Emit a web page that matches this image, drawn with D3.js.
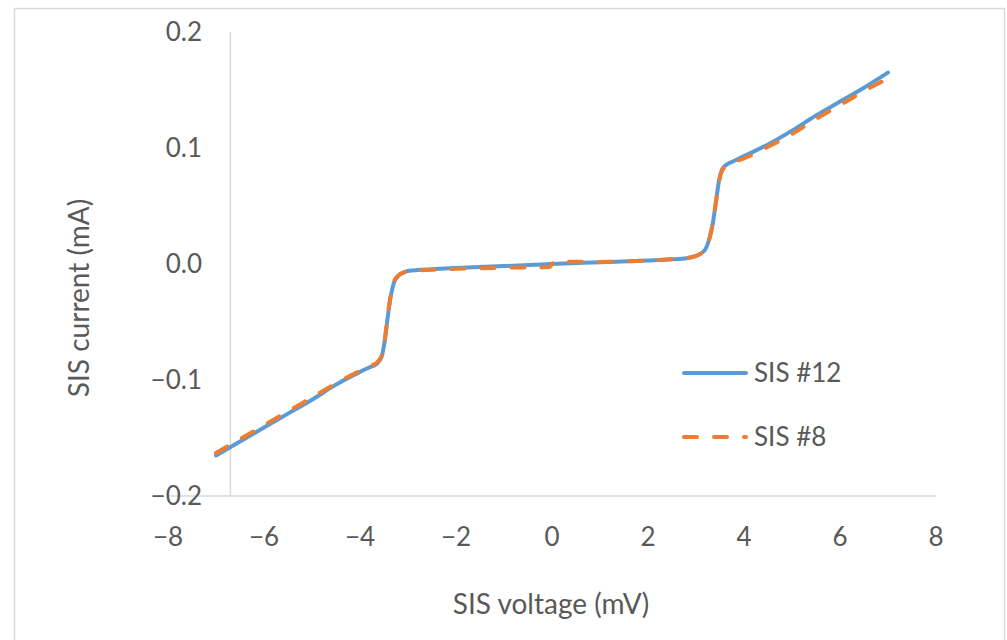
<!DOCTYPE html>
<meta charset="utf-8">
<style>

body { margin: 0; background: #fff; }

text {
  font-family: Lato, "Open Sans", sans-serif;
  fill: #595959;
}

.grid line { stroke: #d9d9d9; stroke-width: 1.5px; }

</style>
<svg width="1007" height="640"></svg>
<script src="https://cdn.jsdelivr.net/npm/d3@7"></script>
<script>

// SIS #12
var voltage12 = [-7, -6.5, -6, -5.5, -5, -4.5, -4, -3.8, -3.65, -3.55, -3.48, -3.42, -3.36, -3.3, -3.2, -3.1, -3,
                 -2.5, -2, -1, 0, 1, 2, 2.5, 2.8, 3, 3.1, 3.2, 3.28, 3.35, 3.42, 3.48, 3.55, 3.65, 3.8,
                 4, 4.5, 5, 5.5, 6, 6.5, 7];
var current12 = [-0.165, -0.153, -0.141, -0.129, -0.117, -0.104, -0.093, -0.089, -0.086, -0.080, -0.065, -0.045, -0.028, -0.017, -0.010, -0.0075, -0.006,
                 -0.0045, -0.0035, -0.0018, 0, 0.0015, 0.003, 0.004, 0.005, 0.007, 0.009, 0.013, 0.022, 0.035, 0.055, 0.072, 0.082, 0.086, 0.089,
                 0.093, 0.103, 0.115, 0.128, 0.140, 0.152, 0.165];

// SIS #8
var voltage8 = [-7, -6.5, -6, -5.5, -5, -4.5, -4, -3.8, -3.65, -3.55, -3.48, -3.42, -3.36, -3.3, -3.2, -3.1, -3,
                -2.5, -2, -1, -0.05, 0.05, 1, 2, 2.5, 2.8, 3, 3.1, 3.2, 3.28, 3.35, 3.42, 3.48, 3.55, 3.65, 3.8,
                4, 4.5, 5, 5.5, 6, 6.5, 6.95];
var current8 = [-0.163, -0.151, -0.139, -0.127, -0.115, -0.103, -0.092, -0.088, -0.085, -0.079, -0.064, -0.044, -0.027, -0.016, -0.010, -0.0075, -0.0062,
                -0.005, -0.0042, -0.0032, -0.0025, 0.002, 0.0018, 0.003, 0.004, 0.005, 0.007, 0.009, 0.013, 0.022, 0.035, 0.055, 0.071, 0.081, 0.085, 0.088,
                0.091, 0.101, 0.112, 0.125, 0.137, 0.149, 0.159];

var xTicks = [-8, -6, -4, -2, 0, 2, 4, 6, 8],
    yTicks = [-0.2, -0.1, 0, 0.1, 0.2];

var series = [
  {name: "SIS #12", x: voltage12, y: current12, color: "#5b9bd5", dash: null},
  {name: "SIS #8", x: voltage8, y: current8, color: "#ed7d31", dash: "13,17"}
];

var svg = d3.select("svg");

svg.append("rect")
    .attr("x", 14.5).attr("y", 8.5)
    .attr("width", 990).attr("height", 700)
    .attr("fill", "#fff")
    .attr("stroke", "#d9d9d9")
    .attr("stroke-width", 1.5);

var x = d3.scaleLinear().domain([-8, 8]).range([168, 936]),
    y = d3.scaleLinear().domain([-0.2, 0.2]).range([496, 32]);

var fmtY = d3.format(".1f"),
    fmtX = d3.format("d");

// axis lines: horizontal at y = -0.2, vertical crossing at x = -6.7
var grid = svg.append("g").attr("class", "grid");
grid.append("line")
    .attr("x1", x(-8)).attr("x2", x(8))
    .attr("y1", y(-0.2)).attr("y2", y(-0.2));
grid.append("line")
    .attr("x1", x(-6.7)).attr("x2", x(-6.7))
    .attr("y1", y(0.2)).attr("y2", y(-0.2));

svg.append("g").selectAll("text")
  .data(yTicks)
  .enter().append("text")
    .attr("x", 202)
    .attr("y", function(d) { return y(d); })
    .attr("dy", "0.35em")
    .attr("text-anchor", "end")
    .style("font-size", "26px")
    .text(fmtY);

svg.append("g").selectAll("text")
  .data(xTicks)
  .enter().append("text")
    .attr("x", function(d) { return x(d); })
    .attr("y", 537)
    .attr("dy", "0.35em")
    .attr("text-anchor", "middle")
    .style("font-size", "26px")
    .text(fmtX);

svg.append("text")
    .attr("x", 551).attr("y", 614)
    .attr("text-anchor", "middle")
    .style("font-size", "28px")
    .text("SIS voltage (mV)");

svg.append("text")
    .attr("transform", "translate(89,298) rotate(-90)")
    .attr("text-anchor", "middle")
    .style("font-size", "28px")
    .text("SIS current (mA)");

var line = d3.line()
    .x(function(d) { return x(d[0]); })
    .y(function(d) { return y(d[1]); })
    .curve(d3.curveMonotoneX);

svg.append("g").selectAll("path")
  .data(series)
  .enter().append("path")
    .attr("d", function(s) { return line(d3.zip(s.x, s.y)); })
    .attr("fill", "none")
    .attr("stroke", function(s) { return s.color; })
    .attr("stroke-width", 4)
    .attr("stroke-linecap", "round")
    .attr("stroke-linejoin", "round")
    .attr("stroke-dasharray", function(s) { return s.dash; });

var legend = svg.append("g").selectAll("g")
  .data(series)
  .enter().append("g")
    .attr("transform", function(s, i) { return "translate(0," + (373 + i * 64) + ")"; });

legend.append("line")
    .attr("x1", 684).attr("x2", 746)
    .attr("stroke", function(s) { return s.color; })
    .attr("stroke-width", 4)
    .attr("stroke-linecap", "round")
    .attr("stroke-dasharray", function(s) { return s.dash; });

legend.append("text")
    .attr("x", 754)
    .attr("dy", "0.35em")
    .style("font-size", "26px")
    .text(function(s) { return s.name; });

</script>
